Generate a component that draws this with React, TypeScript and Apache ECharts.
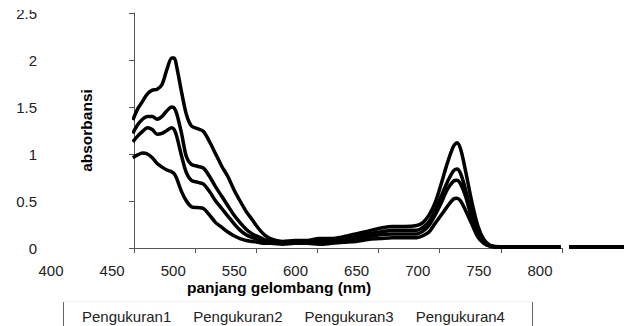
import React, { useEffect, useRef } from "react";
import * as echarts from "echarts";

// wavelength (nm)
const wavelengths = [
  467, 471, 475, 479, 483, 487, 491, 495, 499, 501, 503, 507, 511, 515, 520, 525, 530, 535, 540, 545,
  550, 555, 560, 565, 570, 575, 580, 590, 600, 610, 620, 630, 640, 650, 660, 670, 680, 690, 700, 705,
  710, 715, 720, 725, 730, 733, 736, 740, 745, 750, 755, 760, 765, 770, 780, 800, 818, 821, 825, 870,
];

const pengukuran1 = [
  1.36, 1.48, 1.56, 1.64, 1.68, 1.69, 1.74, 1.9, 2.02, 2.02, 1.93, 1.66, 1.42, 1.3, 1.27, 1.24, 1.13, 1.0, 0.87, 0.76,
  0.62, 0.5, 0.39, 0.3, 0.21, 0.14, 0.1, 0.07, 0.08, 0.08, 0.1, 0.1, 0.12, 0.15, 0.18, 0.21, 0.23, 0.23, 0.24, 0.27,
  0.35, 0.48, 0.68, 0.9, 1.08, 1.12, 1.05, 0.82, 0.5, 0.24, 0.09, 0.03, 0.015, 0.01, 0.01, 0.01, 0.01, null, 0.01, 0.01,
];
const pengukuran2 = [
  1.22, 1.31, 1.37, 1.4, 1.4, 1.37, 1.4, 1.46, 1.5, 1.49, 1.43, 1.22, 0.97, 0.89, 0.87, 0.85, 0.76, 0.65, 0.55, 0.45,
  0.35, 0.27, 0.2, 0.15, 0.12, 0.09, 0.07, 0.06, 0.07, 0.07, 0.08, 0.08, 0.1, 0.12, 0.15, 0.17, 0.19, 0.19, 0.19, 0.22,
  0.28, 0.4, 0.55, 0.7, 0.82, 0.84, 0.79, 0.62, 0.37, 0.18, 0.07, 0.025, 0.012, 0.01, 0.01, 0.01, 0.01, null, 0.01, 0.01,
];
const pengukuran3 = [
  1.13, 1.19, 1.24, 1.28, 1.26, 1.21, 1.22, 1.25, 1.28, 1.26, 1.19, 0.98, 0.8, 0.72, 0.7, 0.68, 0.6, 0.5, 0.42, 0.34,
  0.26, 0.19, 0.14, 0.11, 0.09, 0.07, 0.06, 0.05, 0.06, 0.06, 0.06, 0.07, 0.08, 0.1, 0.12, 0.14, 0.15, 0.15, 0.15, 0.18,
  0.24, 0.35, 0.48, 0.62, 0.71, 0.72, 0.68, 0.55, 0.32, 0.15, 0.06, 0.02, 0.012, 0.01, 0.01, 0.01, 0.01, null, 0.01, 0.01,
];
const pengukuran4 = [
  0.96, 0.99, 1.01, 1.0, 0.96, 0.9, 0.86, 0.83, 0.81, 0.79, 0.74, 0.6, 0.5, 0.44, 0.43, 0.42, 0.35, 0.27, 0.22, 0.17,
  0.13, 0.1, 0.08, 0.07, 0.06, 0.05, 0.05, 0.04, 0.05, 0.05, 0.04, 0.05, 0.06, 0.07, 0.09, 0.1, 0.11, 0.11, 0.11, 0.13,
  0.17, 0.26, 0.35, 0.44, 0.52, 0.53, 0.5, 0.4, 0.26, 0.12, 0.05, 0.02, 0.01, 0.01, 0.01, 0.01, 0.01, null, 0.01, 0.01,
];

const seriesNames = ["Pengukuran1", "Pengukuran2", "Pengukuran3", "Pengukuran4"];
const seriesValues = [pengukuran1, pengukuran2, pengukuran3, pengukuran4];

const FONT = "'Liberation Sans', Arial, sans-serif";

export default function App() {
  const ref = useRef<HTMLDivElement>(null);

  useEffect(() => {
    document.body.style.margin = "0";
    if (!ref.current) return;
    const chart = echarts.init(ref.current, null, { renderer: "svg" });
    const axisColor = "#555";
    const gridBase = { top: 13, bottom: 78, outerBoundsMode: "none", containLabel: false };
    chart.setOption({
      animation: false,
      backgroundColor: "#fff",
      textStyle: { fontFamily: FONT },
      title: {
        text: "panjang gelombang (nm)",
        left: 187,
        top: 279,
        padding: 0,
        textStyle: { fontSize: 15.5, fontWeight: "bold", color: "#000", fontFamily: FONT },
      },
      legend: {
        data: seriesNames,
        left: 77,
        top: 308,
        padding: 0,
        icon: "none",
        itemWidth: 0,
        itemHeight: 16,
        itemGap: 17,
        textStyle: { fontSize: 15, color: "#222", fontFamily: FONT },
      },
      grid: [
        { ...gridBase, left: 134, right: 0 }, // data
        { ...gridBase, left: 51, right: 62 }, // tick labels
        { ...gridBase, left: 134, right: 62 }, // axis lines and ticks
      ],
      xAxis: [
        {
          type: "value",
          gridIndex: 0,
          min: 468,
          max: 870,
          show: false,
          splitLine: { show: false },
        },
        {
          type: "value",
          gridIndex: 1,
          min: 400,
          max: 818,
          interval: 50,
          axisLine: { show: false },
          axisTick: { show: false },
          splitLine: { show: false },
          axisLabel: {
            show: true,
            margin: 15,
            fontSize: 15,
            color: "#222",
            fontFamily: FONT,
            formatter: (v: number) => (v % 50 === 0 ? String(v) : ""),
          },
        },
        {
          type: "value",
          gridIndex: 2,
          min: 468,
          max: 818,
          interval: 50,
          axisLine: { show: true, lineStyle: { color: axisColor, width: 1 } },
          axisTick: { show: true, length: 5, lineStyle: { color: axisColor } },
          axisLabel: { show: false },
          splitLine: { show: false },
        },
      ],
      yAxis: [
        { type: "value", gridIndex: 0, show: false, min: 0, max: 2.5, splitLine: { show: false } },
        { type: "value", gridIndex: 1, show: false, min: 0, max: 2.5, splitLine: { show: false } },
        {
          type: "value",
          gridIndex: 2,
          min: 0,
          max: 2.5,
          interval: 0.5,
          axisLine: { show: true, lineStyle: { color: axisColor, width: 1 } },
          axisTick: { show: true, length: 5, lineStyle: { color: axisColor } },
          splitLine: { show: false },
          axisLabel: { show: true, margin: 97, fontSize: 15, color: "#222", fontFamily: FONT },
          name: "absorbansi",
          nameLocation: "middle",
          nameRotate: 90,
          nameGap: 40,
          nameMoveOverlap: false,
          nameTextStyle: { fontSize: 15.5, fontWeight: "bold", color: "#000", fontFamily: FONT },
        },
      ],
      graphic: [
        { type: "rect", shape: { x: 0, y: 0, width: 125, height: 10 }, style: { fill: "#fff" }, z: 100 },
        { type: "line", shape: { x1: 63.5, y1: 302, x2: 63.5, y2: 326 }, style: { stroke: "#666", lineWidth: 1 } },
        { type: "line", shape: { x1: 532.5, y1: 302, x2: 532.5, y2: 326 }, style: { stroke: "#666", lineWidth: 1 } },
        { type: "line", shape: { x1: 64, y1: 301.5, x2: 532, y2: 301.5 }, style: { stroke: "#f2f2f2", lineWidth: 1 } },
      ],
      series: seriesValues.map((vals, i) => ({
        name: seriesNames[i],
        type: "line",
        xAxisIndex: 0,
        yAxisIndex: 0,
        clip: false,
        symbol: "none",
        smooth: 0.3,
        connectNulls: false,
        lineStyle: { color: "#000", width: 3.5 },
        itemStyle: { color: "#000" },
        data: wavelengths.map((w, j) => [w, vals[j] === null ? "-" : vals[j]]),
      })),
    });
    return () => chart.dispose();
  }, []);

  return <div ref={ref} style={{ width: 624, height: 326 }} />;
}
